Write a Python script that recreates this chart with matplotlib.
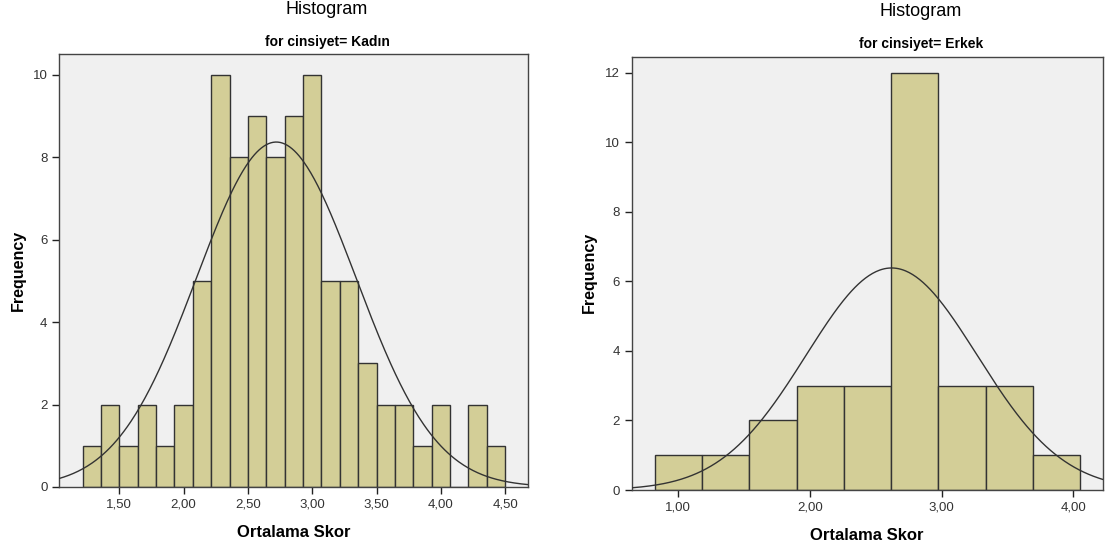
import matplotlib.pyplot as plt
import numpy as np
from matplotlib.ticker import FuncFormatter

# histogram counts
kadin_counts = [1, 2, 1, 2, 1, 2, 5, 10, 8, 9, 8, 9, 10, 5, 5, 3, 2, 2, 1, 2, 0, 2, 1]
kadin_bin_start = 1.2143
kadin_bin_width = 1.0 / 7
kadin_mean = 2.72
kadin_sd = 0.62

erkek_counts = [1, 1, 2, 3, 3, 12, 3, 3, 1]
erkek_bin_start = 0.823
erkek_bin_width = 0.3587
erkek_mean = 2.62
erkek_sd = 0.65

kadin_xticks = [1.5, 2.0, 2.5, 3.0, 3.5, 4.0, 4.5]
erkek_xticks = [1.0, 2.0, 3.0, 4.0]

plt.rcParams['font.family'] = ['Liberation Sans', 'DejaVu Sans']

bar_color = '#D3CE97'
edge_color = '#333333'
bg_color = '#F0F0F0'

fig = plt.figure(figsize=(11.18, 5.51), dpi=100)
ax1 = fig.add_axes([0.0530, 0.1162, 0.4195, 0.7858])
ax2 = fig.add_axes([0.5650, 0.1107, 0.4213, 0.7858])

comma_fmt = FuncFormatter(lambda v, p: ('%.2f' % v).replace('.', ','))


def draw_hist(ax, counts, start, width, mean, sd, xlim, ylim, xticks, yticks):
    counts = np.array(counts)
    edges = start + width * np.arange(len(counts))
    ax.bar(edges, counts, width=width, align='edge', color=bar_color,
           edgecolor=edge_color, linewidth=1.0, zorder=2)
    n = counts.sum()
    xs = np.linspace(xlim[0], xlim[1], 400)
    ys = n * width / (sd * np.sqrt(2 * np.pi)) * np.exp(-0.5 * ((xs - mean) / sd) ** 2)
    ax.plot(xs, ys, color='#333333', linewidth=1.0, zorder=3)
    ax.set_facecolor(bg_color)
    ax.set_xlim(*xlim)
    ax.set_ylim(*ylim)
    ax.set_xticks(xticks)
    ax.set_yticks(yticks)
    ax.xaxis.set_major_formatter(comma_fmt)
    ax.tick_params(axis='both', direction='out', length=5, width=1,
                   labelsize=9.5, colors='#222222', labelcolor='#333333')
    for s in ax.spines.values():
        s.set_color('#444444')
        s.set_linewidth(1.0)
    ax.set_xlabel('Ortalama Skor', fontsize=12, fontweight='bold', labelpad=10)


draw_hist(ax1, kadin_counts, kadin_bin_start, kadin_bin_width, kadin_mean, kadin_sd,
          (1.033, 4.679), (0, 10.5), kadin_xticks, [0, 2, 4, 6, 8, 10])
draw_hist(ax2, erkek_counts, erkek_bin_start, erkek_bin_width, erkek_mean, erkek_sd,
          (0.646, 4.223), (0, 12.45), erkek_xticks, [0, 2, 4, 6, 8, 10, 12])

fig.text(18 / 1118, 1 - 270 / 551, 'Frequency', fontsize=11.5, fontweight='bold',
         rotation=90, ha='center', va='center')
fig.text(589 / 1118, 1 - 272 / 551, 'Frequency', fontsize=11.5, fontweight='bold',
         rotation=90, ha='center', va='center')

fig.text(0.2925, 0.982, 'Histogram', fontsize=13, ha='center', va='center')
fig.text(0.2925, 0.924, 'for cinsiyet= Kadın', fontsize=10, fontweight='bold',
         ha='center', va='center')
fig.text(0.8238, 0.980, 'Histogram', fontsize=13, ha='center', va='center')
fig.text(0.8238, 0.920, 'for cinsiyet= Erkek', fontsize=10, fontweight='bold',
         ha='center', va='center')

fig.savefig('out.png', dpi=100)
